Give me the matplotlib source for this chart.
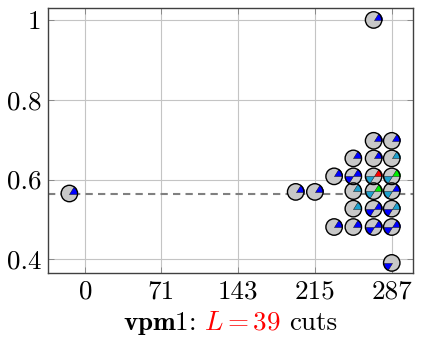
import numpy as np
import matplotlib
matplotlib.use("Agg")
import matplotlib.pyplot as plt
from matplotlib.offsetbox import TextArea, HPacker, AnchoredOffsetbox

plt.rcParams['font.family'] = 'serif'
plt.rcParams['font.serif'] = ['cmr10', 'DejaVu Serif']
plt.rcParams['mathtext.fontset'] = 'cm'
plt.rcParams['axes.formatter.use_mathtext'] = True

# point data
xs = [-15, 197, 215, 270,
      270, 287,
      251, 270, 287,
      233, 251, 270, 287,
      251, 270, 287,
      251, 270, 287,
      233, 251, 270, 287,
      287]
ys = [0.565, 0.569, 0.569, 1.0,
      0.697, 0.697,
      0.653, 0.653, 0.653,
      0.608, 0.608, 0.608, 0.608,
      0.571, 0.571, 0.571,
      0.527, 0.527, 0.527,
      0.481, 0.481, 0.481, 0.481,
      0.391]
# colour of upper-right slice and lower-left slice (None = no slice)
upper = ['b', 'b', 'b', 'b',
         'b', 'b',
         'b', 'b', 'c',
         'b', 'b', 'r', 'g',
         'c', 'g', 'b',
         'c', 'b', 'c',
         'b', 'b', 'b', 'b',
         None]
lower = [None, None, None, None,
         None, None,
         None, None, None,
         None, 'b', 'c', 'c',
         None, 'c', 'c',
         None, 'b', 'b',
         None, None, 'b', 'b',
         'b']
mean_line = 0.565
xticks = [0, 71, 143, 215, 287]
yticks = [0.4, 0.6, 0.8, 1.0]

colmap = {'b': '#0000ff', 'c': '#1ea0cc', 'r': '#ff0000', 'g': '#00ee00'}


def wedge(t1, t2):
    t = np.radians(np.linspace(t1, t2, 20))
    return np.vstack([[0, 0], np.column_stack([np.cos(t), np.sin(t)]), [0, 0]])


w_up = wedge(0, 58)
w_lo = wedge(180, 238)

fig = plt.figure(figsize=(4.25, 3.45), dpi=100)
ax = fig.add_axes([0.113, 0.209, 0.859, 0.769])

ax.axhline(mean_line, color='#808080', lw=1.5, ls=(0, (3.5, 2.5)), zorder=2)

s = 140
ax.scatter(xs, ys, s=s, marker='o', c='#c8c8c8', edgecolors='none', zorder=3)
for x, y, u, l in zip(xs, ys, upper, lower):
    if u:
        ax.scatter([x], [y], s=s, marker=w_up, c=colmap[u], edgecolors='black',
                   linewidths=0.3, zorder=4)
    if l:
        ax.scatter([x], [y], s=s, marker=w_lo, c=colmap[l], edgecolors='black',
                   linewidths=0.3, zorder=4)
ax.scatter(xs, ys, s=s, marker='o', facecolors='none', edgecolors='black',
           linewidths=1.0, zorder=5)

ax.set_xlim(-35, 307)
ax.set_ylim(0.366, 1.031)
ax.set_xticks(xticks)
ax.set_xticklabels([str(v) for v in xticks])
ax.set_yticks(yticks)
ax.set_yticklabels(['0.4', '0.6', '0.8', '1'])
ax.grid(True, color='#c4c4c4', lw=0.8, zorder=0)
ax.set_axisbelow(True)
ax.tick_params(direction='in', length=4, width=0.6, color='#808080',
               labelsize=19.5, top=True, right=True, pad=5)
for sp in ax.spines.values():
    sp.set_color('#404040')
    sp.set_linewidth(1.0)

parts = [TextArea(r'$\mathbf{vpm1}$:', textprops=dict(fontsize=19.5, color='black')),
         TextArea(r'$L = 39$', textprops=dict(fontsize=19.5, color='red')),
         TextArea('cuts', textprops=dict(fontsize=19.5, color='black'))]
box = HPacker(children=parts, align='baseline', pad=0, sep=6)
anc = AnchoredOffsetbox(loc='center', child=box, frameon=False,
                        bbox_to_anchor=(0.5, -0.19), bbox_transform=ax.transAxes,
                        borderpad=0, pad=0)
ax.add_artist(anc)

fig.savefig('out.png', dpi=100)
